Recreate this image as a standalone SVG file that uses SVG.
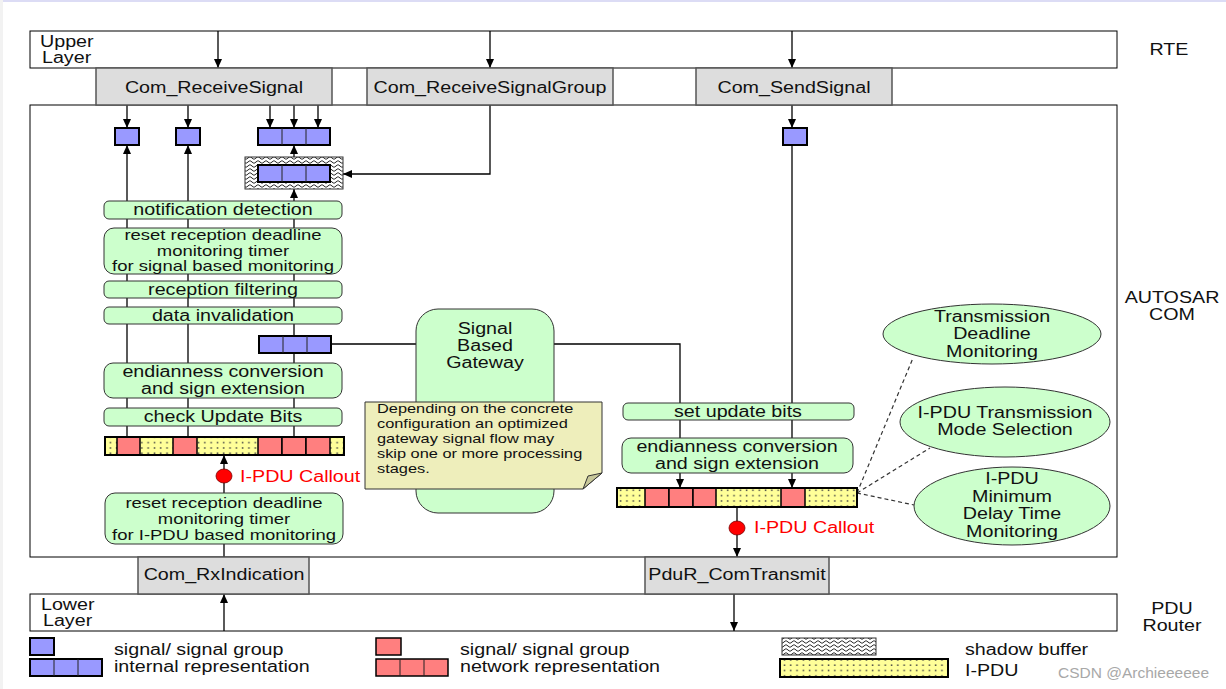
<svg xmlns="http://www.w3.org/2000/svg" xmlns:xlink="http://www.w3.org/1999/xlink" width="1226" height="689" viewBox="0 0 1226 689">
<style>
.t{font-family:"Liberation Sans",Arial,sans-serif;font-size:16px;fill:#111;text-anchor:middle;transform-box:fill-box;transform-origin:center;transform:scaleX(1.23)}
.n{font-size:15px;transform:scaleX(1.232)}
.l{text-anchor:start;transform-origin:left center}
.note{font-size:13.3px}
.red{fill:#FF0000}
.frame{fill:#fff;stroke:#000;stroke-width:1}
.api{fill:#DDDDDD;stroke:#555;stroke-width:1.5}
.stage{fill:#CCFFCC;stroke:#333;stroke-width:1}
.ln{fill:none;stroke:#000;stroke-width:1.3}
.arr{fill:none;stroke:#000;stroke-width:1.3;marker-end:url(#ah)}
.dash{fill:none;stroke:#333;stroke-width:1.2;stroke-dasharray:4 3}
.blue{fill:#9999FF;stroke:#000;stroke-width:2}
.redc{fill:#FF7F7F;stroke:#000;stroke-width:1.5}
.div{stroke:#222;stroke-width:1}
.pdu{fill:url(#dots);stroke:#000;stroke-width:2}
.wm{font-family:"Liberation Sans",Arial,sans-serif;font-size:15.5px;fill:#a8a8a8}
</style>
<defs>
<marker id="ah" viewBox="0 0 9 8" refX="9" refY="4" markerWidth="9" markerHeight="8" markerUnits="userSpaceOnUse" orient="auto"><path d="M0,0 L9,4 L0,8 z" fill="#000"/></marker>
<pattern id="dots" width="6.3" height="5.3" patternUnits="userSpaceOnUse"><rect width="6.3" height="5.3" fill="#FFFF99"/><rect x="2.5" y="2" width="1.5" height="1.5" fill="#444"/></pattern>
<pattern id="wave" width="8" height="4" patternUnits="userSpaceOnUse"><rect width="8" height="4" fill="#fff"/><path d="M0,2 C2,0.4 2,0.4 4,2 S6,3.6 8,2" fill="none" stroke="#222" stroke-width="1"/></pattern>
<g id="sq"><rect class="blue" x="0" y="0" width="24" height="17"/></g>
<g id="tri"><rect class="blue" x="0" y="0" width="72" height="17"/><path class="div" d="M24,0V17M48,0V17"/></g>
</defs>

<rect x="0" y="0" width="1226" height="689" fill="#fff"/>
<rect x="0" y="0" width="1226" height="2" fill="#dcdcf5"/>
<rect x="0" y="0" width="3" height="689" fill="#f2f2f2"/>

<g id="layers">
<rect class="frame" x="30" y="31" width="1087" height="37"/>
<rect class="frame" x="30" y="105" width="1087" height="452"/>
<rect class="frame" x="30" y="594" width="1087" height="37"/>
<text class="t l" x="40" y="47">Upper</text>
<text class="t l" x="42" y="63">Layer</text>
<text class="t l" x="41" y="610">Lower</text>
<text class="t l" x="43" y="626">Layer</text>
<text class="t" x="1169" y="55">RTE</text>
<text class="t" x="1172" y="303">AUTOSAR<tspan x="1172" dy="17">COM</tspan></text>
<text class="t" x="1172" y="614">PDU<tspan x="1172" dy="17">Router</tspan></text>
</g>

<g id="connectors">
<path class="arr" d="M218,31V68"/>
<path class="arr" d="M490,31V68"/>
<path class="arr" d="M792,31V68"/>
<path class="arr" d="M127,105V128"/>
<path class="arr" d="M188,105V128"/>
<path class="arr" d="M270,105V128"/>
<path class="arr" d="M294,105V128"/>
<path class="arr" d="M318,105V128"/>
<path class="arr" d="M490,105V174H343"/>
<path class="arr" d="M294,157V145"/>
<path class="arr" d="M127,437V145"/>
<path class="arr" d="M188,437V145"/>
<path class="arr" d="M294,437V189"/>
<path class="arr" d="M224,493V455"/>
<path class="ln" d="M224,544V557"/>
<path class="arr" d="M224,631V594"/>
<path class="arr" d="M792,105V128"/>
<path class="arr" d="M792,145V488"/>
<path class="arr" d="M331,344H680V488"/>
<path class="arr" d="M737,507V557"/>
<path class="arr" d="M734,594V631"/>
<path class="dash" d="M857,493L913,358"/>
<path class="dash" d="M857,493L930,448"/>
<path class="dash" d="M857,493L914,505"/>
</g>

<g id="api-boxes">
<rect class="api" x="96" y="68" width="236" height="37"/>
<text class="t" x="214" y="93">Com_ReceiveSignal</text>
<rect class="api" x="367" y="68" width="246" height="37"/>
<text class="t" x="490" y="93">Com_ReceiveSignalGroup</text>
<rect class="api" x="696" y="68" width="196" height="37"/>
<text class="t" x="794" y="93">Com_SendSignal</text>
<rect class="api" x="138" y="557" width="171" height="37"/>
<text class="t" x="224" y="580">Com_RxIndication</text>
<rect class="api" x="645" y="557" width="184" height="37"/>
<text class="t" x="737" y="580">PduR_ComTransmit</text>
</g>

<g id="buffers">
<use xlink:href="#sq" x="115" y="128"/>
<use xlink:href="#sq" x="176" y="128"/>
<use xlink:href="#tri" x="258" y="128"/>
<rect x="245" y="157" width="98" height="32" fill="url(#wave)" stroke="#333" stroke-width="1"/>
<use xlink:href="#tri" x="258" y="165"/>
<use xlink:href="#tri" x="259" y="336"/>
<use xlink:href="#sq" x="783" y="128"/>
</g>

<g id="rx-stages">
<rect class="stage" x="104" y="201" width="238" height="18" rx="5"/>
<text class="t" x="223" y="215">notification detection</text>
<rect class="stage" x="104" y="228" width="238" height="46" rx="10"/>
<text class="t n" x="223" y="240">reset reception deadline<tspan x="223" dy="15.7">monitoring timer</tspan><tspan x="223" dy="15.7">for signal based monitoring</tspan></text>
<rect class="stage" x="104" y="281" width="238" height="17" rx="5"/>
<text class="t" x="223" y="295">reception filtering</text>
<rect class="stage" x="104" y="307" width="238" height="17" rx="5"/>
<text class="t" x="223" y="321">data invalidation</text>
<rect class="stage" x="104" y="363" width="238" height="35" rx="9"/>
<text class="t" x="223" y="377">endianness conversion<tspan x="223" dy="17.5">and sign extension</tspan></text>
<rect class="stage" x="104" y="408" width="238" height="18" rx="5"/>
<text class="t" x="223" y="422">check Update Bits</text>
<rect class="stage" x="105" y="493" width="238" height="51" rx="10"/>
<text class="t n" x="224" y="508">reset reception deadline<tspan x="224" dy="16">monitoring timer</tspan><tspan x="224" dy="16">for I-PDU based monitoring</tspan></text>
</g>

<g id="rx-ipdu">
<rect class="pdu" x="105" y="437" width="239" height="18"/>
<rect class="redc" x="117" y="437" width="23" height="18"/>
<rect class="redc" x="173" y="437" width="24" height="18"/>
<rect class="redc" x="258" y="437" width="24" height="18"/>
<rect class="redc" x="282" y="437" width="24" height="18"/>
<rect class="redc" x="306" y="437" width="24" height="18"/>
<rect x="105" y="437" width="239" height="18" fill="none" stroke="#000" stroke-width="2"/>
</g>

<g id="rx-callout">
<ellipse cx="224" cy="476" rx="8" ry="7" fill="#FF0000" stroke="#700" stroke-width="0.8"/>
<text class="t l red" x="240" y="482">I-PDU Callout</text>
</g>

<g id="gateway">
<rect class="stage" x="416" y="309" width="138" height="204" rx="22"/>
<text class="t" x="485" y="334">Signal<tspan x="485" dy="17">Based</tspan><tspan x="485" dy="17">Gateway</tspan></text>
</g>

<g id="note">
<path d="M365,402H602V473L583,489H365Z" fill="#EEEEBB" stroke="#333" stroke-width="1"/>
<path d="M583,489L588,476L602,473Z" fill="#C8C89A" stroke="#333" stroke-width="1"/>
<text class="t l note" x="377" y="413">Depending on the concrete<tspan x="377" dy="15">configuration an optimized</tspan><tspan x="377" dy="15">gateway signal flow may</tspan><tspan x="377" dy="15">skip one or more processing</tspan><tspan x="377" dy="15">stages.</tspan></text>
</g>

<g id="tx-stages">
<rect class="stage" x="623" y="403" width="231" height="17" rx="5"/>
<text class="t" x="738" y="417">set update bits</text>
<rect class="stage" x="622" y="438" width="231" height="35" rx="9"/>
<text class="t" x="737" y="452">endianness conversion<tspan x="737" dy="17.5">and sign extension</tspan></text>
</g>

<g id="tx-ipdu">
<rect class="pdu" x="617" y="488" width="240" height="19"/>
<rect class="redc" x="645" y="488" width="24" height="19"/>
<rect class="redc" x="669" y="488" width="24" height="19"/>
<rect class="redc" x="693" y="488" width="23" height="19"/>
<rect class="redc" x="781" y="488" width="24" height="19"/>
<rect x="617" y="488" width="240" height="19" fill="none" stroke="#000" stroke-width="2"/>
</g>

<g id="tx-callout">
<ellipse cx="737" cy="528" rx="8" ry="7" fill="#FF0000" stroke="#700" stroke-width="0.8"/>
<text class="t l red" x="754" y="533">I-PDU Callout</text>
</g>

<g id="tdm">
<ellipse class="stage" cx="992" cy="334" rx="109" ry="30"/>
<text class="t" x="992" y="322">Transmission<tspan x="992" dy="17.3">Deadline</tspan><tspan x="992" dy="17.3">Monitoring</tspan></text>
</g>
<g id="tms">
<ellipse class="stage" cx="1005" cy="422" rx="105" ry="35"/>
<text class="t" x="1005" y="418">I-PDU Transmission<tspan x="1005" dy="17.5">Mode Selection</tspan></text>
</g>
<g id="mdt">
<ellipse class="stage" cx="1012" cy="506" rx="98" ry="39"/>
<text class="t" x="1012" y="484">I-PDU<tspan x="1012" dy="17.6">Minimum</tspan><tspan x="1012" dy="17.6">Delay Time</tspan><tspan x="1012" dy="17.6">Monitoring</tspan></text>
</g>

<g id="legend">
<use xlink:href="#sq" x="30" y="638"/>
<use xlink:href="#tri" x="30" y="659"/>
<text class="t l" x="114" y="655">signal/ signal group</text>
<text class="t l" x="114" y="672">internal representation</text>
<rect class="redc" x="376" y="638" width="25" height="17" stroke-width="2"/>
<rect class="redc" x="376" y="659" width="72" height="17" stroke-width="2"/>
<path class="div" d="M400,659V676M424,659V676"/>
<text class="t l" x="460" y="655">signal/ signal group</text>
<text class="t l" x="460" y="672">network representation</text>
<rect x="782" y="638" width="94" height="17" fill="url(#wave)" stroke="#333" stroke-width="1"/>
<rect class="pdu" x="780" y="659" width="168" height="18"/>
<text class="t l" x="965" y="655">shadow buffer</text>
<text class="t l" x="965" y="676">I-PDU</text>
</g>

<text class="wm" x="1058" y="678">CSDN @Archieeeeee</text>
</svg>
